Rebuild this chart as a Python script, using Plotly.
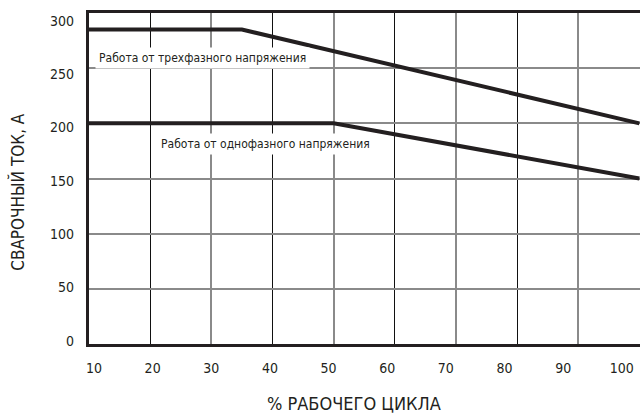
import plotly.graph_objects as go

# ---- data ----
duty_3ph = [10, 35, 100]
current_3ph = [285, 285, 200]
duty_1ph = [10, 50, 100]
current_1ph = [200, 200, 150]

x_ticks = [10, 20, 30, 40, 50, 60, 70, 80, 90, 100]
y_ticks = [0, 50, 100, 150, 200, 250, 300]

label_3ph = "Работа от трехфазного напряжения"
label_1ph = "Работа от однофазного напряжения"
x_title = "% РАБОЧЕГО ЦИКЛА"
y_title = "СВАРОЧНЫЙ ТОК, А"

FONT = "DejaVu Sans Condensed, Liberation Sans Narrow, Open Sans, sans-serif"
INK = "#231f20"
GRID = "#8a8a8a"

fig = go.Figure()
fig.add_trace(go.Scatter(x=duty_3ph, y=current_3ph, mode="lines",
                         line=dict(color=INK, width=4), hoverinfo="skip"))
fig.add_trace(go.Scatter(x=duty_1ph, y=current_1ph, mode="lines",
                         line=dict(color=INK, width=4), hoverinfo="skip"))
# overlay axes that only carry tick labels
fig.add_trace(go.Scatter(x=[None], y=[None], xaxis="x2", yaxis="y2",
                         mode="lines", hoverinfo="skip", showlegend=False))

fig.update_layout(
    width=640, height=417,
    margin=dict(l=89, r=0, t=13, b=73),
    paper_bgcolor="white", plot_bgcolor="white",
    showlegend=False,
    font=dict(family=FONT, color=INK, size=14),
    xaxis=dict(range=[10, 100.1], tick0=0, dtick=20, automargin=False,
               showgrid=True, gridcolor="#111111", gridwidth=1,
               minor=dict(dtick=10, showgrid=True, gridcolor=GRID, gridwidth=1.6),
               showticklabels=False, ticks="", zeroline=False,
               showline=True, linecolor=INK, linewidth=2.5, mirror=True),
    yaxis=dict(range=[0, 300], dtick=50, automargin=False,
               showgrid=True, gridcolor=GRID, gridwidth=1.6,
               showticklabels=False, ticks="", zeroline=False,
               showline=True, linecolor=INK, linewidth=2.5, mirror=False),
    xaxis2=dict(overlaying="x", anchor="y2", side="bottom", range=[9.15, 103.1],
                automargin=False,
                tickmode="array", tickvals=x_ticks, ticktext=[str(v) for v in x_ticks],
                showgrid=False, zeroline=False, showline=False, ticks="",
                ticklabelstandoff=14, tickfont=dict(size=14, family=FONT, color=INK)),
    yaxis2=dict(overlaying="y", anchor="x2", side="left", range=[-3.1, 307.5],
                automargin=False,
                tickmode="array", tickvals=y_ticks, ticktext=[str(v) for v in y_ticks],
                showgrid=False, zeroline=False, showline=False, ticks="",
                ticklabelstandoff=14, tickfont=dict(size=14, family=FONT, color=INK)),
)

fig.add_annotation(x=10.98, y=259, xref="x", yref="y", text=label_3ph,
                   showarrow=False, xanchor="left", yanchor="middle",
                   bgcolor="white", borderpad=3,
                   font=dict(family=FONT, size=12, color=INK))
fig.add_annotation(x=21.2, y=181, xref="x", yref="y", text=label_1ph,
                   showarrow=False, xanchor="left", yanchor="middle",
                   bgcolor="white", borderpad=3,
                   font=dict(family=FONT, size=12, color=INK))
fig.add_annotation(x=0.481, y=-0.18, xref="paper", yref="paper", text=x_title,
                   showarrow=False, xanchor="center", yanchor="middle",
                   font=dict(family=FONT, size=18, color=INK))
fig.add_annotation(x=-0.13, y=0.461, xref="paper", yref="paper", text=y_title,
                   showarrow=False, xanchor="center", yanchor="middle", textangle=-90,
                   font=dict(family=FONT, size=17, color=INK))

fig.write_html(
    "out.html",
    config={"displayModeBar": False},
    post_script="document.body.style.margin='0';document.body.style.overflow='hidden';",
)
